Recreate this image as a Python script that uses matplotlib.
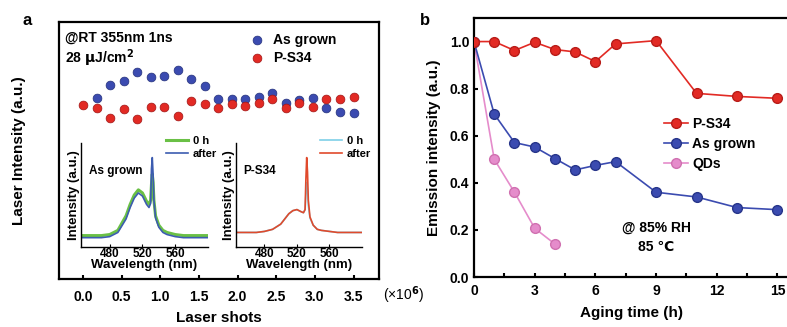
import numpy as np
import matplotlib
matplotlib.use("Agg")
import matplotlib.pyplot as plt

plt.rcParams['font.family'] = ['Liberation Sans', 'DejaVu Sans']
plt.rcParams['font.weight'] = 'bold'
plt.rcParams['axes.labelweight'] = 'bold'

# ---- panel a data (laser shots, x10^6) ----
shots = [0.0, 0.175, 0.35, 0.525, 0.7, 0.875, 1.05, 1.225, 1.4, 1.575, 1.75,
         1.925, 2.1, 2.275, 2.45, 2.625, 2.8, 2.975, 3.15, 3.325, 3.5]
ps34_laser = [67.7, 66.7, 62.5, 66.0, 62.3, 67.0, 66.8, 63.4, 69.4, 68.1, 66.4,
              68.0, 67.3, 68.6, 69.9, 66.4, 68.4, 66.8, 69.9, 69.9, 70.7]
grown_laser = [70.3, 75.5, 77.0, 80.7, 78.7, 79.0, 81.3, 77.7, 75.1, 70.0,
               69.9, 70.0, 70.7, 72.2, 68.4, 69.6, 70.3, 66.4, 64.9, 64.5]

# ---- inset spectra ----
wl = [445, 460, 470, 480, 490, 500, 505, 510, 515, 520, 525, 528, 530, 531,
      532, 533, 534, 536, 540, 545, 550, 560, 570, 580, 600]
grown_0h = [0.11, 0.11, 0.11, 0.12, 0.16, 0.30, 0.41, 0.50, 0.55, 0.52, 0.44, 0.41,
            0.45, 0.60, 0.70, 0.62, 0.45, 0.30, 0.21, 0.16, 0.14, 0.12, 0.11, 0.11, 0.11]
grown_after = [0.09, 0.09, 0.09, 0.10, 0.14, 0.27, 0.38, 0.47, 0.52, 0.49, 0.41, 0.38,
               0.42, 0.75, 0.86, 0.70, 0.45, 0.28, 0.19, 0.14, 0.12, 0.10, 0.09, 0.09, 0.09]
ps34_0h = [0.14, 0.14, 0.14, 0.15, 0.17, 0.22, 0.27, 0.32, 0.35, 0.36, 0.34, 0.33,
           0.36, 0.50, 0.62, 0.55, 0.40, 0.28, 0.21, 0.17, 0.16, 0.15, 0.14, 0.14, 0.14]
ps34_after = [0.14, 0.14, 0.14, 0.15, 0.17, 0.22, 0.27, 0.32, 0.35, 0.36, 0.34, 0.33,
              0.36, 0.65, 0.86, 0.72, 0.45, 0.29, 0.21, 0.17, 0.16, 0.15, 0.14, 0.14, 0.14]

# ---- panel b data ----
t_long = [0, 1, 2, 3, 4, 5, 6, 7, 9, 11, 13, 15]
ps34_em = [1.0, 1.0, 0.962, 0.997, 0.966, 0.956, 0.915, 0.99, 1.004, 0.78, 0.767, 0.759]
grown_em = [1.0, 0.692, 0.571, 0.552, 0.503, 0.455, 0.474, 0.49, 0.36, 0.34, 0.295, 0.286]
t_qd = [0, 1, 2, 3, 4]
qd_em = [1.0, 0.5, 0.36, 0.207, 0.14]

RED = '#e22a24'
BLUE = '#3b4bb0'
PINK = '#e58ccb'

fig = plt.figure(figsize=(7.87, 3.27), dpi=100)

# ================= panel a =================
axa = fig.add_axes([0.075, 0.1468, 0.4066, 0.786])
axa.scatter(shots[1:], grown_laser, s=40, color=BLUE, edgecolor='#23307a', linewidth=0.5, zorder=3)
axa.scatter(shots, ps34_laser, s=40, color=RED, edgecolor='#a01515', linewidth=0.5, zorder=3)
axa.set_xlim(-0.31, 3.83)
axa.set_ylim(0, 100)
axa.set_yticks([])
axa.set_xticks([0, 0.5, 1.0, 1.5, 2.0, 2.5, 3.0, 3.5])
axa.set_xticklabels(['0.0', '0.5', '1.0', '1.5', '2.0', '2.5', '3.0', '3.5'])
axa.tick_params(axis='x', direction='in', length=3, width=1.5, labelsize=10, pad=8)
for sp in axa.spines.values():
    sp.set_linewidth(1.6)
axa.set_xlabel('Laser shots', fontsize=11, labelpad=5)
axa.set_ylabel('Laser Intensity (a.u.)', fontsize=11, labelpad=24)
axa.text(3.88, -0.062, r'(×10$^\mathbf{6}$)', transform=axa.get_xaxis_transform(),
         fontsize=10, va='center', ha='left', fontweight='normal')
axa.text(0.02, 0.94, '@RT 355nm 1ns', transform=axa.transAxes, fontsize=10, va='center')
axa.text(0.02, 0.86, r'28 $\mathbf{\mu}$J/cm$^\mathbf{2}$', transform=axa.transAxes, fontsize=10, va='center')
axa.scatter([0.62], [0.93], s=40, color=BLUE, edgecolor='#23307a', linewidth=0.5, transform=axa.transAxes)
axa.scatter([0.62], [0.86], s=40, color=RED, edgecolor='#a01515', linewidth=0.5, transform=axa.transAxes)
axa.text(0.67, 0.93, 'As grown', transform=axa.transAxes, fontsize=10, va='center')
axa.text(0.67, 0.86, 'P-S34', transform=axa.transAxes, fontsize=10, va='center')
fig.text(0.028, 0.96, 'a', fontsize=12, fontweight='bold', va='top')

# insets
def inset(rect, y0, y1, c0, c1, w0, label):
    ax = fig.add_axes(rect)
    ax.plot(wl, y0, color=c0, lw=w0, label='0 h')
    ax.plot(wl, y1, color=c1, lw=1.2, label='after')
    ax.set_xlim(445, 600)
    ax.set_ylim(0, 1)
    ax.set_yticks([])
    ax.set_xticks([480, 520, 560])
    ax.tick_params(axis='x', direction='in', length=2, labelsize=8.5, pad=1)
    ax.spines['top'].set_visible(False)
    ax.spines['right'].set_visible(False)
    ax.spines['left'].set_linewidth(1.0)
    ax.spines['bottom'].set_linewidth(1.0)
    ax.set_xlabel('Wavelength (nm)', fontsize=9.5, labelpad=-1)
    ax.set_ylabel('Intensity (a.u.)', fontsize=9.5, labelpad=1)
    ax.text(0.06, 0.7, label, transform=ax.transAxes, fontsize=8.5)
    ax.legend(loc='upper right', fontsize=8, frameon=False, handlelength=2.0,
              borderaxespad=0.0, borderpad=0.1, labelspacing=0.25, handletextpad=0.4,
              bbox_to_anchor=(1.08, 1.08))
    ax.patch.set_alpha(0)
    return ax

inset([0.1029, 0.2446, 0.1614, 0.318], grown_0h, grown_after, '#6ac046', '#3c5cb0', 2.2, 'As grown')
inset([0.2999, 0.2446, 0.160, 0.318], ps34_0h, ps34_after, '#7ecfe8', '#e04a2c', 1.2, 'P-S34')

# ================= panel b =================
axb = fig.add_axes([0.6023, 0.1529, 0.401, 0.792])
axb.plot(t_long, ps34_em, '-o', color=RED, mec='#b81c18', mfc=RED, ms=7, lw=1.2, label='P-S34', zorder=3)
axb.plot(t_long, grown_em, '-o', color=BLUE, mec='#27358a', mfc=BLUE, ms=7, lw=1.2, label='As grown', zorder=2)
axb.plot(t_qd, qd_em, '-o', color=PINK, mec='#d070b0', mfc=PINK, ms=7, lw=1.2, label='QDs', zorder=1)
axb.set_xlim(0, 15.6)
axb.set_ylim(0, 1.1)
axb.set_xticks([0, 3, 6, 9, 12, 15])
axb.set_xticks([1.5, 4.5, 7.5, 10.5, 13.5], minor=True)
axb.set_yticks([0.0, 0.2, 0.4, 0.6, 0.8, 1.0])
axb.set_yticklabels(['0.0', '0.2', '0.4', '0.6', '0.8', '1.0'])
axb.tick_params(which='both', direction='in', length=3, width=1.5, labelsize=10)
axb.tick_params(axis='x', pad=5)
for sp in axb.spines.values():
    sp.set_linewidth(1.6)
axb.set_xlabel('Aging time (h)', fontsize=11, labelpad=6)
axb.set_ylabel('Emission intensity (a.u.)', fontsize=11, labelpad=6)
axb.legend(loc='upper left', bbox_to_anchor=(0.585, 0.64), fontsize=10, frameon=False,
           handlelength=1.7, borderaxespad=0, labelspacing=0.45, handletextpad=0.3)
axb.text(9.0, 0.208, '@ 85% RH', fontsize=10, ha='center', va='center')
axb.text(9.0, 0.128, '85 ℃', fontsize=10, ha='center', va='center')
fig.text(0.534, 0.96, 'b', fontsize=12, fontweight='bold', va='top')

fig.savefig('out.png', dpi=100)
